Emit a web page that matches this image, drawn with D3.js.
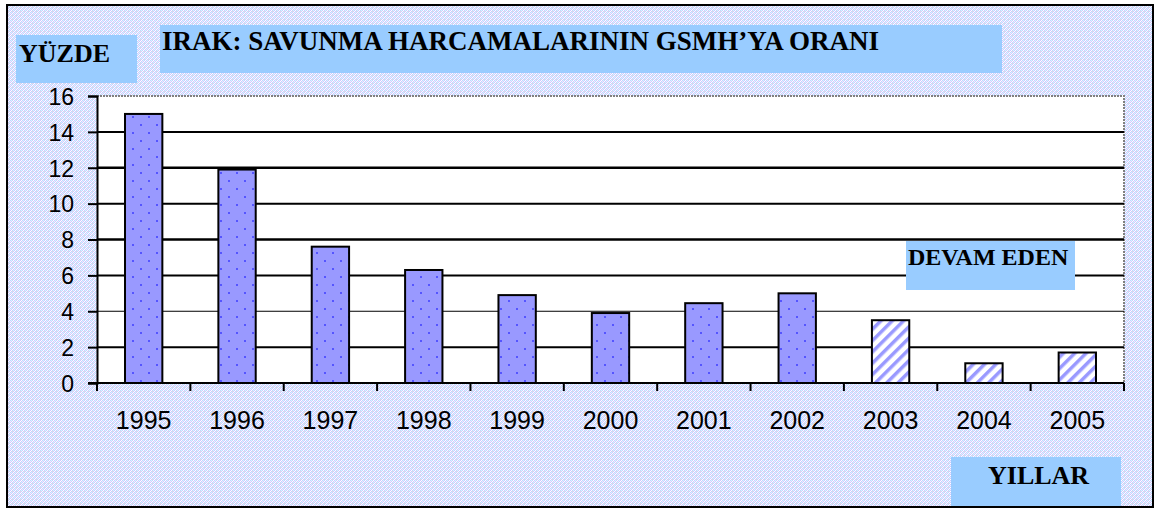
<!DOCTYPE html>
<html lang="tr">
  <head>
    <meta charset="UTF-8" />
    <title>Irak: Savunma Harcamalarının GSMH'ya Oranı</title>
    <script src="https://d3js.org/d3.v7.min.js"></script>
    <style>
      body {
        margin: 0;
        background: #fff;
      }
      .tick-label {
        font-family: "Liberation Sans", Arial, sans-serif;
        fill: #000;
      }
      .box-text {
        font-family: "Liberation Serif", "Times New Roman", serif;
        font-weight: bold;
        fill: #000;
      }
    </style>
  </head>
  <body>
    <svg id="chart" width="1157" height="510"></svg>

    <script>
      // ---------------------------------------------------------------
      // DATA
      // ---------------------------------------------------------------
      const years = ["1995", "1996", "1997", "1998", "1999", "2000", "2001", "2002", "2003", "2004", "2005"];
      const ratios = [15.0, 11.9, 7.6, 6.3, 4.9, 3.9, 4.45, 5.0, 3.5, 1.1, 1.7];
      // first year of the "ongoing" (hatched) period
      const ongoingFrom = "2003";
      const yTicks = [0, 2, 4, 6, 8, 10, 12, 14, 16];

      const titleText = "IRAK: SAVUNMA HARCAMALARININ GSMH\u2019YA ORANI";
      const yAxisText = "YÜZDE";
      const xAxisText = "YILLAR";
      const noteText = "DEVAM EDEN";

      const data = years.map((y, i) => ({ year: y, value: ratios[i] }));

      // ---------------------------------------------------------------
      // SETUP
      // ---------------------------------------------------------------
      const svg = d3.select("#chart");

      const plot = { left: 97, top: 96, right: 1124, bottom: 383 };

      const defs = svg.append("defs");

      // dithered background
      const bgPat = defs
        .append("pattern")
        .attr("id", "dither")
        .attr("width", 4)
        .attr("height", 4)
        .attr("patternUnits", "userSpaceOnUse");
      const ditherRows = [
        ["#ccccff", "#ffffff", "#ccccff", "#ccffff"],
        ["#ffffff", "#ccccff", "#eeeeff", "#ccccff"],
        ["#ccccff", "#ccffff", "#ccccff", "#ffffff"],
        ["#e0e0e0", "#ccccff", "#ffffff", "#ccccff"],
      ];
      ditherRows.forEach((row, r) =>
        row.forEach((c, k) =>
          bgPat.append("rect").attr("x", k).attr("y", r).attr("width", 1).attr("height", 1).attr("fill", c)
        )
      );

      // dotted bar fill
      const dotPat = defs
        .append("pattern")
        .attr("id", "dots")
        .attr("width", 16)
        .attr("height", 16)
        .attr("patternUnits", "userSpaceOnUse");
      dotPat.append("rect").attr("width", 16).attr("height", 16).attr("fill", "#9999ff");
      dotPat.append("rect").attr("x", 4).attr("y", 4).attr("width", 2).attr("height", 2).attr("fill", "#5555ff");
      dotPat.append("rect").attr("x", 12).attr("y", 12).attr("width", 2).attr("height", 2).attr("fill", "#5555ff");

      // hatched bar fill
      const hatchPat = defs
        .append("pattern")
        .attr("id", "hatch")
        .attr("width", 8)
        .attr("height", 8)
        .attr("patternUnits", "userSpaceOnUse")
        .attr("patternTransform", "rotate(45)");
      hatchPat.append("rect").attr("width", 8).attr("height", 8).attr("fill", "#ffffff");
      hatchPat.append("rect").attr("x", 0).attr("width", 3.5).attr("height", 8).attr("fill", "#9999ff");

      // background + frame
      svg
        .append("rect")
        .attr("x", 7)
        .attr("y", 5)
        .attr("width", 1146)
        .attr("height", 502)
        .attr("fill", "url(#dither)")
        .attr("stroke", "#000")
        .attr("stroke-width", 2);

      // ---------------------------------------------------------------
      // SCALES
      // ---------------------------------------------------------------
      const x = d3
        .scaleBand()
        .domain(years)
        .range([plot.left, plot.right])
        .paddingInner(0.6)
        .paddingOuter(0.3);

      const y = d3.scaleLinear().domain([0, 16]).range([plot.bottom, plot.top]);

      // plot area
      svg
        .append("rect")
        .attr("x", plot.left)
        .attr("y", plot.top)
        .attr("width", plot.right - plot.left)
        .attr("height", plot.bottom - plot.top)
        .attr("fill", "#fff");

      // grey dashed top / right border
      svg
        .append("path")
        .attr("d", `M${plot.left},${plot.top}H${plot.right}V${plot.bottom}`)
        .attr("fill", "none")
        .attr("stroke", "#808080")
        .attr("stroke-width", 2)
        .attr("stroke-dasharray", "2,1");

      // gridlines
      svg
        .append("g")
        .selectAll("line")
        .data(yTicks.filter((t) => t > 0 && t < 16))
        .join("line")
        .attr("x1", plot.left)
        .attr("x2", plot.right)
        .attr("y1", (d) => y(d))
        .attr("y2", (d) => y(d))
        .attr("stroke", "#000")
        .attr("stroke-width", (d) => (d % 4 === 0 && d !== 4 ? 2.5 : d === 4 ? 1 : 2));

      // bars
      const ongoingIdx = years.indexOf(ongoingFrom);
      svg
        .append("g")
        .selectAll("rect")
        .data(data)
        .join("rect")
        .attr("x", (d) => x(d.year))
        .attr("y", (d) => y(d.value))
        .attr("width", x.bandwidth())
        .attr("height", (d) => y(0) - y(d.value))
        .attr("fill", (d, i) => (i >= ongoingIdx ? "url(#hatch)" : "url(#dots)"))
        .attr("stroke", "#000")
        .attr("stroke-width", 2);

      // y axis
      const yAxis = svg
        .append("g")
        .attr("transform", `translate(${plot.left},0)`)
        .call(d3.axisLeft(y).tickValues(yTicks).tickSize(9).tickPadding(14));
      yAxis.select(".domain").attr("stroke", "#000").attr("stroke-width", 2);
      yAxis.selectAll(".tick line").attr("stroke", "#000").attr("stroke-width", 2);
      yAxis
        .selectAll(".tick text")
        .attr("class", "tick-label")
        .style("font-size", "23px")
        .attr("dy", "0.36em");

      // x axis: line + boundary ticks
      const boundaries = d3.range(years.length + 1).map((i) => plot.left + i * ((plot.right - plot.left) / years.length));
      svg
        .append("line")
        .attr("x1", plot.left - 9)
        .attr("x2", plot.right)
        .attr("y1", y(0))
        .attr("y2", y(0))
        .attr("stroke", "#000")
        .attr("stroke-width", 2);
      svg
        .append("g")
        .selectAll("line")
        .data(boundaries)
        .join("line")
        .attr("x1", (d) => d)
        .attr("x2", (d) => d)
        .attr("y1", y(0))
        .attr("y2", y(0) + 8)
        .attr("stroke", "#000")
        .attr("stroke-width", 2);

      svg
        .append("g")
        .selectAll("text")
        .data(years)
        .join("text")
        .attr("class", "tick-label")
        .attr("x", (d) => x(d) + x.bandwidth() / 2)
        .attr("y", 429)
        .attr("text-anchor", "middle")
        .style("font-size", "25px")
        .text((d) => d);

      // ---------------------------------------------------------------
      // LABEL BOXES
      // ---------------------------------------------------------------
      function labelBox(bx, by, bw, bh, tx, ty, size, txt) {
        svg
          .append("rect")
          .attr("x", bx)
          .attr("y", by)
          .attr("width", bw)
          .attr("height", bh)
          .attr("fill", "#99ccff");
        svg
          .append("text")
          .attr("class", "box-text")
          .attr("x", tx)
          .attr("y", ty)
          .style("font-size", size + "px")
          .text(txt);
      }

      labelBox(160, 25, 842, 48, 162, 50, 27, titleText);
      labelBox(16, 35, 121, 48, 19, 62, 26, yAxisText);
      labelBox(906, 241, 169, 49, 908, 265, 24, noteText);
      labelBox(951, 457, 170, 49, 988, 484, 26, xAxisText);
    </script>
  </body>
</html>
